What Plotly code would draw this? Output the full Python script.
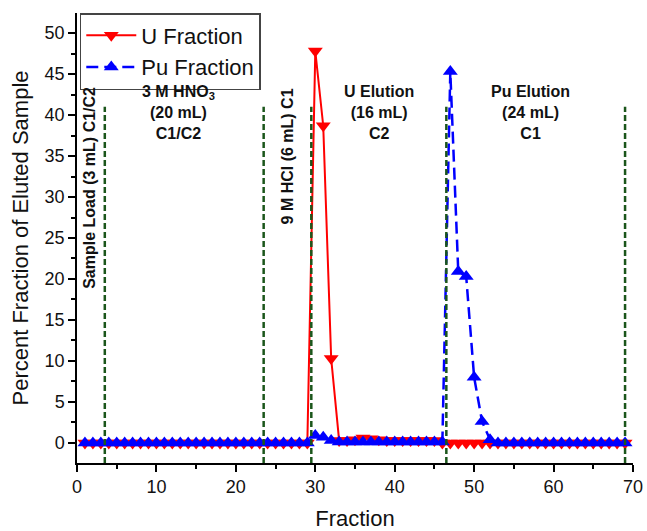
import plotly.graph_objects as go

# Fraction numbers collected from the column
fractions = list(range(1, 70))

# Percent of eluted uranium per fraction
u_fraction = (
    [0.0] * 29
    + [47.8, 38.7, 10.3]
    + [0.3, 0.3, 0.4, 0.6, 0.5, 0.4, 0.3, 0.3, 0.3, 0.3, 0.3, 0.3, 0.3]
    + [0.0] * 24
)

# Percent of eluted plutonium per fraction
pu_fraction = (
    [0.0] * 29
    + [0.9, 0.7, 0.3]
    + [0.1] * 14
    + [45.3, 20.9, 20.3, 8.0, 2.6, 0.4]
    + [0.0] * 17
)

# Boundaries between the elution steps (fraction number)
step_bounds = [3.5, 23.5, 29.5, 46.5, 69.0]
step_top = 41.0

# Step labels: (text, x, y, rotation)
step_labels = [
    ("Sample Load (3 mL) C1/C2", 1.65, 43.7, -90),
    ("3 M HNO<sub>3</sub><br>(20 mL)<br>C1/C2", 12.8, 44.2, 0),
    ("9 M HCl (6 mL) C1", 26.45, 43.5, -90),
    ("U Elution<br>(16 mL)<br>C2", 38.0, 44.2, 0),
    ("Pu Elution<br>(24 mL)<br>C1", 57.1, 44.2, 0),
]

x_range = [0, 70]
y_range = [-2.45, 52.45]

FONT = "Liberation Sans, Arial, sans-serif"

fig = go.Figure()

fig.add_trace(go.Scatter(
    x=fractions, y=u_fraction, name="U Fraction",
    mode="lines+markers",
    line=dict(color="#ff0000", width=2),
    marker=dict(symbol="triangle-down", size=13, color="#ff0000"),
))

fig.add_trace(go.Scatter(
    x=fractions, y=pu_fraction, name="Pu Fraction",
    mode="lines+markers",
    line=dict(color="#0000ff", width=2.5, dash="12px,6px"),
    marker=dict(symbol="triangle-up", size=13, color="#0000ff"),
))

for xb in step_bounds:
    fig.add_shape(
        type="line", xref="x", yref="y",
        x0=xb, x1=xb, y0=y_range[0], y1=step_top,
        line=dict(color="#1b561b", width=2.5, dash="6px,3px"),
    )

for text, xl, yl, ang in step_labels:
    fig.add_annotation(
        x=xl, y=yl, xref="x", yref="y", text=text, showarrow=False,
        textangle=ang, xanchor="center", yanchor="top", align="center",
        font=dict(family=FONT, size=16, color="#111111", weight="bold"),
    )

axis_common = dict(
    showline=True, linecolor="black", linewidth=1.5, mirror=False,
    showgrid=False, zeroline=False, automargin=False,
    ticks="outside", ticklen=7, tickwidth=1.5, tickcolor="black",
    tickfont=dict(family=FONT, size=18, color="#111111"),
)

fig.update_xaxes(
    range=x_range, dtick=10, tick0=0,
    minor=dict(dtick=5, ticks="outside", ticklen=4, tickwidth=1.5, tickcolor="black"),
    title=dict(text="Fraction", font=dict(family=FONT, size=22, color="#111111"), standoff=19),
    **axis_common,
)
fig.update_yaxes(
    range=y_range, dtick=5, tick0=0,
    minor=dict(dtick=2.5, ticks="outside", ticklen=4, tickwidth=1.5, tickcolor="black"),
    title=dict(text="Percent Fraction of Eluted Sample", font=dict(family=FONT, size=22, color="#111111"), standoff=10),
    **axis_common,
)

fig.update_layout(
    width=647, height=531,
    margin=dict(l=77, r=14, t=13, b=68, autoexpand=False),
    plot_bgcolor="white", paper_bgcolor="white",
    font=dict(family=FONT),
    legend=dict(
        x=0.005, y=1.0, xanchor="left", yanchor="top",
        bgcolor="white", bordercolor="#444444", borderwidth=1.5,
        font=dict(family=FONT, size=22, color="#111111"),
        itemwidth=50, tracegroupgap=0,
    ),
)

fig.write_html("out.html")
